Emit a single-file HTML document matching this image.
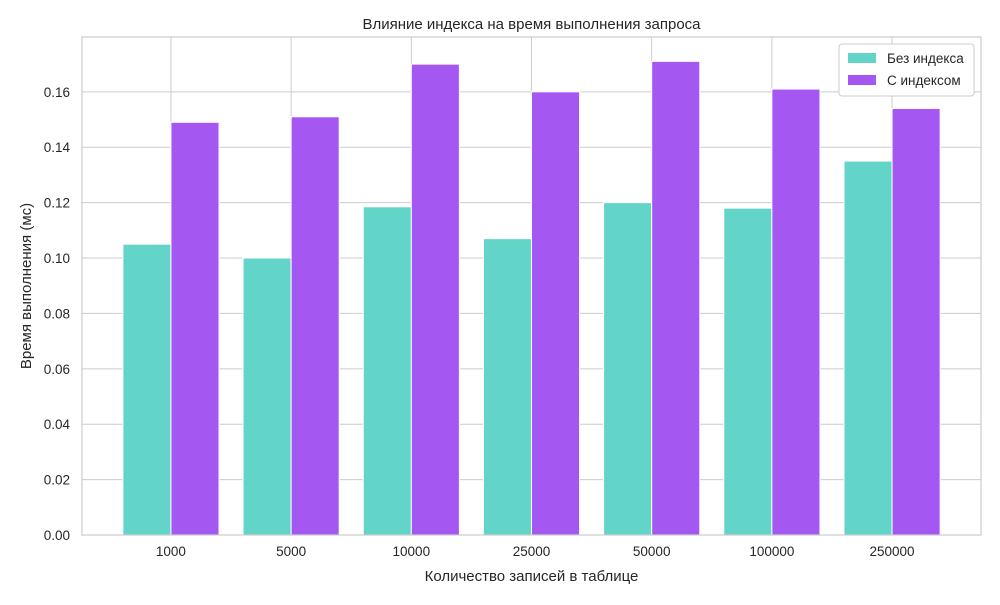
<!DOCTYPE html>
<html><head><meta charset="utf-8"><style>
body{margin:0;background:#fff;font-family:"Liberation Sans","DejaVu Sans",sans-serif}
</style></head><body>
<svg id="chart" width="1000" height="600" xmlns="http://www.w3.org/2000/svg" font-family="Liberation Sans, DejaVu Sans, sans-serif">
<g id="grid"></g>
<g id="bars"></g>
<g id="axes"></g>
</svg>
<script>
const categories=["1000","5000","10000","25000","50000","100000","250000"];
const noIndex=[0.105,0.100,0.1185,0.107,0.120,0.118,0.135];
const withIndex=[0.149,0.151,0.170,0.160,0.171,0.161,0.154];
const yTicks=[0,0.02,0.04,0.06,0.08,0.10,0.12,0.14,0.16];
const L=82,R=981,T=37,B=535,yMax=0.1798,xMin=-0.74,xMax=6.74;
const NS="http://www.w3.org/2000/svg";
const X=v=>L+(v-xMin)/(xMax-xMin)*(R-L);
const Y=v=>B-v/yMax*(B-T);
function mk(tag,attrs,parent,text){const e=document.createElementNS(NS,tag);for(const k in attrs)e.setAttribute(k,attrs[k]);if(text!==undefined)e.textContent=text;parent.appendChild(e);return e;}
const grid=document.getElementById('grid'),bars=document.getElementById('bars'),axes=document.getElementById('axes');
yTicks.forEach(t=>{
 const l=mk('line',{x1:L,x2:R,y1:Y(t),y2:Y(t),stroke:'#cccccc','stroke-width':1},grid);
 
 
 const tx=mk('text',{x:L-12,y:Y(t)+5,'text-anchor':'end','font-size':13.5,fill:'#262626'},axes,t.toFixed(2));
 
 
});
categories.forEach((c,i)=>{
 const l=mk('line',{x1:X(i),x2:X(i),y1:T,y2:B,stroke:'#cccccc','stroke-width':1},grid);
 
 
 const tx=mk('text',{x:X(i),y:B+21,'text-anchor':'middle','font-size':13.5,fill:'#262626'},axes,c);
 
 
 const w=X(0.4)-X(0);
 const b1=mk('rect',{x:X(i-0.4),y:Y(noIndex[i]),width:w,height:B-Y(noIndex[i]),fill:'#63d4c8',stroke:'#fff','stroke-width':1},bars);
 
 
 const b2=mk('rect',{x:X(i),y:Y(withIndex[i]),width:w,height:B-Y(withIndex[i]),fill:'#a557f2',stroke:'#fff','stroke-width':1},bars);
 
 
});
const fr=mk('rect',{x:L,y:T,width:R-L,height:B-T,fill:'none',stroke:'#cccccc','stroke-width':1.2},axes);


const ti=mk('text',{x:(L+R)/2,y:29,'text-anchor':'middle','font-size':15,fill:'#262626'},axes,'Влияние индекса на время выполнения запроса');


const xt=mk('text',{x:(L+R)/2,y:581,'text-anchor':'middle','font-size':15,fill:'#262626'},axes,'Количество записей в таблице');


const yt=mk('text',{x:31,y:(T+B)/2,'text-anchor':'middle','font-size':15,fill:'#262626',transform:'rotate(-90 31 '+((T+B)/2)+')'},axes,'Время выполнения (мс)');


const lg=mk('g',{},axes);


mk('rect',{x:839,y:44,width:135,height:52,fill:'#fff',stroke:'#cccccc',rx:3},lg);
[['Без индекса','#63d4c8'],['С индексом','#a557f2']].forEach((d,k)=>{
 const e=mk('g',{},lg);
 
 
 mk('rect',{x:848,y:53+k*22,width:28,height:10,fill:d[1]},e);
 mk('text',{x:887,y:63+k*22,'font-size':13.5,fill:'#262626'},e,d[0]);
});
</script>
</body></html>
